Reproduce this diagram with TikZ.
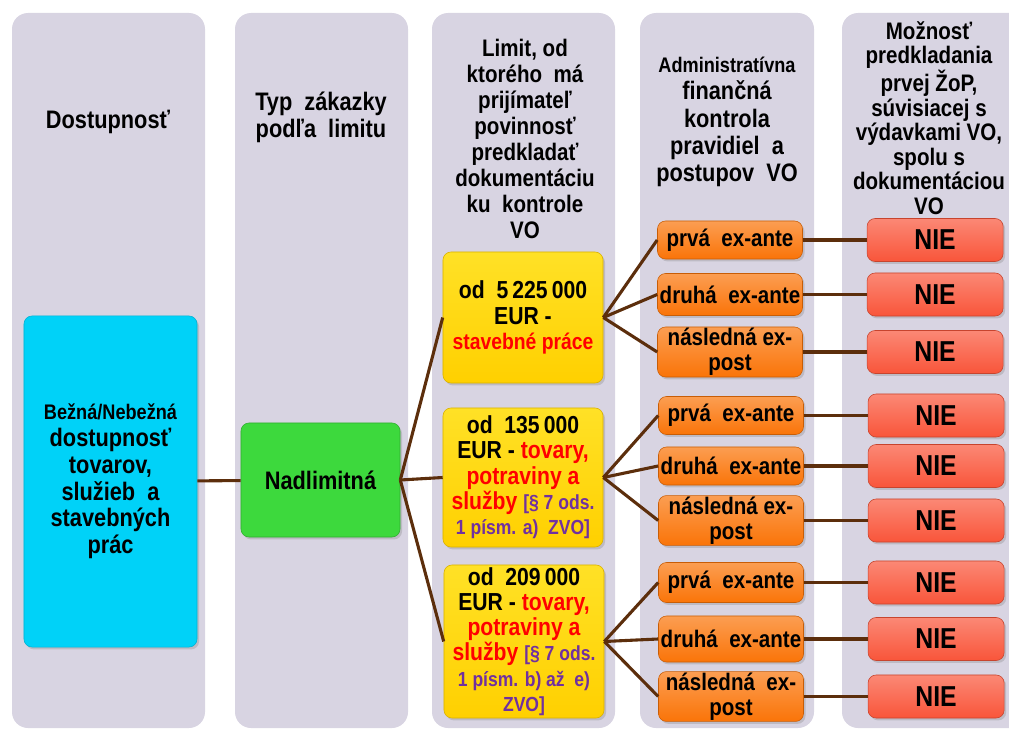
\documentclass[tikz,border=0pt]{standalone}
\usepackage{fontspec}
\setmainfont{Liberation Sans}[FakeStretch=0.86]
\usetikzlibrary{positioning, shadows}
\definecolor{panelgrey}{HTML}{D8D4E2}
\definecolor{availblue}{HTML}{00D2F8}
\definecolor{typegreen}{HTML}{3DD93D}
\definecolor{limityellow}{HTML}{FFD000}
\definecolor{ctrlorange}{HTML}{FA7408}
\definecolor{niered}{HTML}{F9553A}
\definecolor{linkbrown}{HTML}{5C2E0C}
\definecolor{vopurple}{HTML}{7030A0}
\newcommand{\zvo}[1]{{\fontsize{14.5}{18}\selectfont\color{vopurple}#1}}

\begin{document}
\begin{tikzpicture}[x=0.025cm, y=-0.025cm,
        panel/.style={fill=panelgrey, rounded corners=0.4cm},
        head/.style={align=center, inner sep=0pt, font=\bfseries\fontsize{18}{19}\selectfont},
        box/.style={rectangle, rounded corners=0.2cm, align=center, inner sep=1pt, drop shadow={opacity=0.3, shadow xshift=0.05cm, shadow yshift=-0.06cm}},
        avail/.style={box, draw=availblue!85!black, fill=availblue, minimum width=4.325cm, minimum height=8.275cm, font=\bfseries\fontsize{18}{19}\selectfont},
        typebox/.style={box, draw=typegreen!80!black, fill=typegreen, minimum width=3.975cm, minimum height=2.85cm, font=\bfseries\fontsize{18}{19}\selectfont},
        limitbox/.style={box, draw=limityellow!85!black, top color=limityellow!75!yellow!85!white, bottom color=limityellow, minimum width=4cm, font=\bfseries\fontsize{17.5}{18}\selectfont},
        ctrlbox/.style={box, draw=ctrlorange!80!black, top color=ctrlorange!70!white, bottom color=ctrlorange, minimum width=3.625cm, font=\bfseries\fontsize{17}{17.5}\selectfont},
        niebox/.style={box, draw=niered!80!black, top color=niered!70!white, bottom color=niered, minimum width=3.4cm, minimum height=1.075cm, font=\bfseries\fontsize{20.5}{21}\selectfont},
        link/.style={draw, line width=2.2pt, linkbrown},
        node distance=1.6cm
        ]
        \useasboundingbox (0,0) rectangle (1009,729);

        % Panels
        \fill [panel] (12,13) rectangle (205,728);
        \fill [panel] (235,13) rectangle (408,728);
        \fill [panel] (432,13) rectangle (615,728);
        \fill [panel] (640,13) rectangle (814,728);
        \fill [panel] (842,13) rectangle (1040,728);

        % Headings
        \node (head1) [head] at (108,122) {Dostupnosť};
        \node (head2) [head] at (321,117) {Typ\ \ zákazky\\podľa\ \ limitu};
        \node (head3) [head, font=\bfseries\fontsize{17}{18.5}\selectfont] at (525,139) {Limit, od\\ktorého\ \ má\\prijímateľ\\povinnosť\\predkladať\\dokumentáciu\\ku\ \ kontrole\\VO};
        \node (head4) [head, font=\bfseries\fontsize{18}{19.5}\selectfont] at (727,122) {{\fontsize{15}{19.5}\selectfont Administratívna}\\finančná\\kontrola\\pravidiel\ \ a\\postupov\ \ VO};
        \node (head5) [head, font=\bfseries\fontsize{17}{17.5}\selectfont] at (929,118) {Možnosť\\predkladania\\prvej ŽoP,\\súvisiacej s\\výdavkami VO,\\spolu s\\dokumentáciou\\VO};

        % Nodes
        \node (access) [avail] at (110.5,481.5) {{\fontsize{15}{19}\selectfont Bežná/Nebežná}\\dostupnosť\\tovarov,\\služieb\ \ a\\stavebných\\prác};
        \node (type) [typebox] at (320.5,480) {Nadlimitná};

        \node (limit1) [limitbox, minimum height=3.275cm] at (523,317.5) {od\ \ 5\,225\,000\\EUR -\\{\color{red}\fontsize{16}{18}\selectfont stavebné práce}};
        \node (limit2) [limitbox, minimum height=3.475cm] at (523,477.5) {od\ \ 135\,000\\EUR - \textcolor{red}{tovary,}\\\textcolor{red}{potraviny a}\\\textcolor{red}{služby} \zvo{[§ 7 ods.}\\\zvo{1 písm. a)\ \ ZVO]}};
        \node (limit3) [limitbox, minimum height=3.825cm] at (524,641.5) {od\ \ 209\,000\\EUR - \textcolor{red}{tovary,}\\\textcolor{red}{potraviny a}\\\textcolor{red}{služby} \zvo{[§ 7 ods.}\\\zvo{1 písm. b) až\ \ e)}\\\zvo{ZVO]}};

        \node (ctrl1) [ctrlbox, minimum height=0.95cm] at (730,240) {prvá\ \ ex-ante};
        \node (ctrl2) [ctrlbox, minimum height=1.05cm] at (730,294.5) {druhá\ \ ex-ante};
        \node (ctrl3) [ctrlbox, minimum height=1.25cm] at (730,352) {následná ex-\\post};
        \node (ctrl4) [ctrlbox, minimum height=0.95cm] at (731,415.5) {prvá\ \ ex-ante};
        \node (ctrl5) [ctrlbox, minimum height=0.95cm] at (731,466) {druhá\ \ ex-ante};
        \node (ctrl6) [ctrlbox, minimum height=1.15cm] at (731,520.5) {následná ex-\\post};
        \node (ctrl7) [ctrlbox, minimum height=1.0cm] at (731,582.5) {prvá\ \ ex-ante};
        \node (ctrl8) [ctrlbox, minimum height=1.15cm] at (731,639) {druhá\ \ ex-ante};
        \node (ctrl9) [ctrlbox, minimum height=1.2cm] at (731,696.5) {následná\ \ ex-\\post};

        \node (nie1) [niebox, right=of ctrl1] {NIE};
        \node (nie2) [niebox, right=of ctrl2] {NIE};
        \node (nie3) [niebox, right=of ctrl3] {NIE};
        \node (nie4) [niebox, right=of ctrl4] {NIE};
        \node (nie5) [niebox, right=of ctrl5] {NIE};
        \node (nie6) [niebox, right=of ctrl6] {NIE};
        \node (nie7) [niebox, right=of ctrl7] {NIE};
        \node (nie8) [niebox, right=of ctrl8] {NIE};
        \node (nie9) [niebox, right=of ctrl9] {NIE};

        % Connectors
        \draw [link] (access) -- (type);
        \draw [link] (type.east) -- (limit1.west);
        \draw [link] (type.east) -- (limit2.west);
        \draw [link] (type.east) -- (limit3.west);
        \draw [link] (limit1.east) -- (ctrl1.west);
        \draw [link] (limit1.east) -- (ctrl2.west);
        \draw [link] (limit1.east) -- (ctrl3.west);
        \draw [link] (limit2.east) -- (ctrl4.west);
        \draw [link] (limit2.east) -- (ctrl5.west);
        \draw [link] (limit2.east) -- (ctrl6.west);
        \draw [link] (limit3.east) -- (ctrl7.west);
        \draw [link] (limit3.east) -- (ctrl8.west);
        \draw [link] (limit3.east) -- (ctrl9.west);
        \draw [link] (ctrl1) -- (nie1);
        \draw [link] (ctrl2) -- (nie2);
        \draw [link] (ctrl3) -- (nie3);
        \draw [link] (ctrl4) -- (nie4);
        \draw [link] (ctrl5) -- (nie5);
        \draw [link] (ctrl6) -- (nie6);
        \draw [link] (ctrl7) -- (nie7);
        \draw [link] (ctrl8) -- (nie8);
        \draw [link] (ctrl9) -- (nie9);

    \end{tikzpicture}
\end{document}
